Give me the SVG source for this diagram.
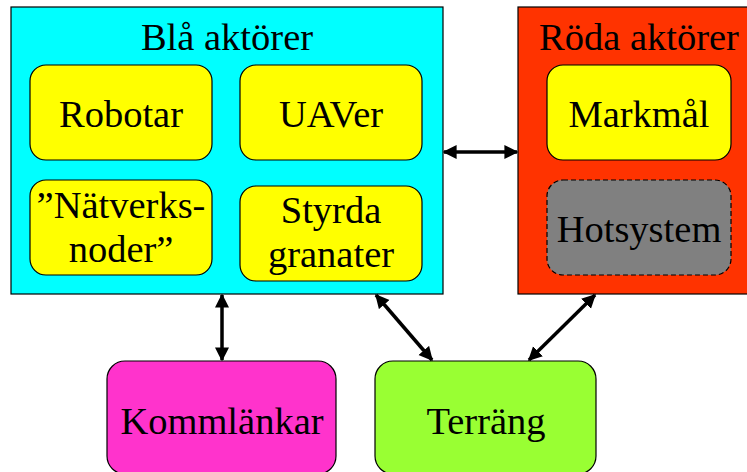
<svg xmlns="http://www.w3.org/2000/svg" width="747" height="472" viewBox="0 0 747 472">
<style>
text{font-family:"Liberation Serif","Times New Roman",serif;font-size:38.5px;fill:#000;text-anchor:middle}
.box{stroke:#000;stroke-width:1.2}
.node{stroke:#000;stroke-width:1.2}
.conn line{stroke:#000;stroke-width:3.5;marker-start:url(#ah);marker-end:url(#ah)}
</style>
<defs>
<marker id="ah" viewBox="0 0 10 10" refX="9" refY="5" markerWidth="4" markerHeight="4.5" orient="auto-start-reverse" markerUnits="strokeWidth">
<path d="M0,0 L10,5 L0,10 z" fill="#000"/>
</marker>
</defs>
<rect width="747" height="472" fill="#fff"/>
<g id="bla">
<rect class="box" x="11" y="7" width="432" height="287" fill="#00FFFF"/>
<text x="227" y="50">Blå aktörer</text>
</g>
<g id="roda">
<rect class="box" x="518" y="7" width="240" height="287" fill="#FF3300"/>
<text x="639" y="50">Röda aktörer</text>
</g>
<g id="robotar">
<rect class="node" x="30" y="65" width="182" height="95" rx="16" fill="#FFFF00"/>
<text x="121" y="127">Robotar</text>
</g>
<g id="uaver">
<rect class="node" x="240" y="65" width="182" height="95" rx="16" fill="#FFFF00"/>
<text x="331" y="127">UAVer</text>
</g>
<g id="natverksnoder">
<rect class="node" x="30" y="180" width="182" height="95" rx="16" fill="#FFFF00"/>
<text x="121" y="218">”Nätverks-</text>
<text x="121" y="262">noder”</text>
</g>
<g id="styrda">
<rect class="node" x="240" y="186" width="182" height="95" rx="16" fill="#FFFF00"/>
<text x="331" y="223">Styrda</text>
<text x="331" y="267">granater</text>
</g>
<g id="markmal">
<rect class="node" x="547" y="65" width="184" height="95" rx="16" fill="#FFFF00"/>
<text x="639" y="127">Markmål</text>
</g>
<g id="hotsystem">
<rect class="node" x="547" y="180" width="184" height="95" rx="16" fill="#808080" stroke-dasharray="5,3"/>
<text x="639" y="242">Hotsystem</text>
</g>
<g id="kommlankar">
<rect class="node" x="107" y="361" width="229" height="113" rx="18" fill="#FF33CC"/>
<text x="222" y="434">Kommlänkar</text>
</g>
<g id="terrang">
<rect class="node" x="375" y="361" width="221" height="113" rx="18" fill="#99FF33"/>
<text x="486" y="434">Terräng</text>
</g>
<g id="connectors" class="conn">
<line x1="444" y1="152" x2="517" y2="152"/>
<line x1="222" y1="295" x2="222" y2="360"/>
<line x1="376" y1="295" x2="432" y2="360"/>
<line x1="595" y1="295" x2="529" y2="360"/>
</g>
</svg>
